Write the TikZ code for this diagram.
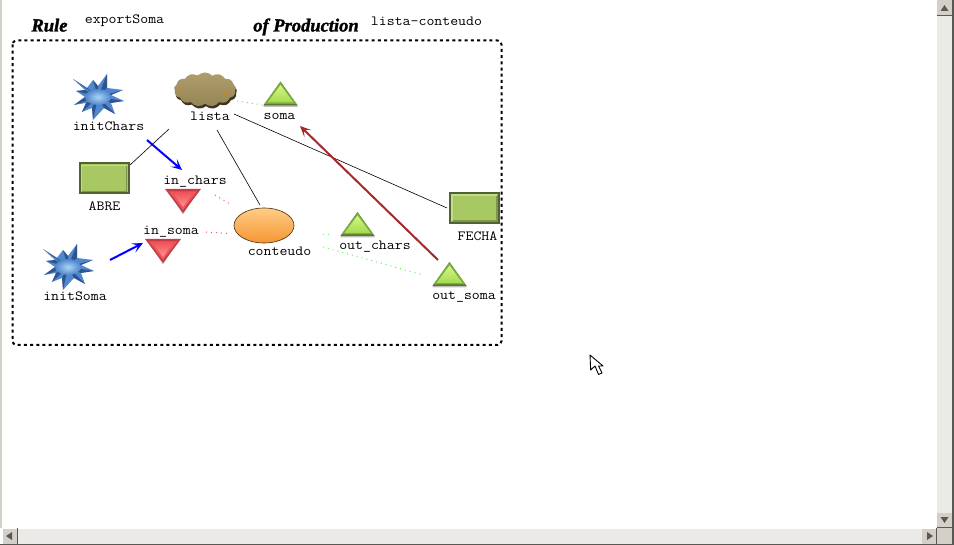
\documentclass[tikz,border=0pt]{standalone}
\usepackage{fontspec}
\setmainfont{Liberation Serif}
\setmonofont[FakeStretch=1.1]{Latin Modern Mono}
\newfontfamily\ttlfont[FakeBold=1.6]{Liberation Serif Bold Italic}
\usetikzlibrary{arrows.meta,shapes.geometric,shapes.symbols,calc}
\definecolor{face}{RGB}{212,208,200}
\definecolor{track}{RGB}{236,234,230}
\definecolor{edgegrey}{RGB}{88,88,84}
\definecolor{leafa}{RGB}{215,245,135}
\definecolor{leafb}{RGB}{165,218,80}
\definecolor{leafe}{RGB}{120,175,60}
\definecolor{leafd}{RGB}{92,115,50}
\definecolor{rosea}{RGB}{255,150,150}
\definecolor{roseb}{RGB}{240,85,90}
\definecolor{rosed}{RGB}{195,60,70}
\definecolor{boxfill}{RGB}{168,200,100}
\definecolor{boxdark}{RGB}{82,98,48}
\definecolor{boxlite}{RGB}{195,220,135}
\definecolor{boxmid}{RGB}{125,150,75}
\definecolor{khaki}{RGB}{150,133,85}
\definecolor{khakil}{RGB}{175,158,108}
\definecolor{khakid}{RGB}{62,52,32}
\definecolor{oranga}{RGB}{255,205,135}
\definecolor{orangb}{RGB}{245,150,50}
\definecolor{blua}{RGB}{175,220,252}
\definecolor{blum}{RGB}{80,135,205}
\definecolor{blub}{RGB}{25,50,100}
\definecolor{redarrow}{RGB}{165,42,42}
\definecolor{dotgreen}{RGB}{90,245,90}
\definecolor{dotred}{RGB}{245,80,95}
\tikzset{
  lbl/.style={font=\ttfamily\fontsize{14}{15}\selectfont,inner sep=0pt,text=black},
  ttl/.style={font=\ttlfont\fontsize{18.5}{20}\selectfont,inner sep=0pt,anchor=base},
  link/.style={draw=black,line width=0.6pt},
  flow/.style={draw=blue,line width=2pt,-{Stealth[length=11pt,width=10pt,inset=5.5pt]}},
  back/.style={draw=redarrow,line width=2pt,-{Stealth[length=11pt,width=10pt,inset=5.5pt]}},
  dotg/.style={draw=dotgreen,line width=1pt,dash pattern=on 1pt off 4pt},
  dotr/.style={draw=dotred,line width=1pt,dash pattern=on 1pt off 4pt},
  bevelbox/.style={rectangle,draw=boxdark,line width=2pt,fill=boxfill,inner sep=0pt},
  btn/.style={fill=face,draw=none},
  glyph/.style={fill=edgegrey,draw=none},
  puff/.style={cloud,cloud puffs=13,cloud puff arc=95,aspect=2.1,minimum width=62pt,minimum height=34pt,inner sep=0pt,draw=none}
}
\newcommand{\uptri}[3]{%
  \coordinate (#1) at (#2,#3);
  \begin{scope}[shift={(#2,#3)}]
    \fill[black!25] (-17,13) -- (17,13) -- (17,11) -- (0,-12) -- (-17,11) -- cycle;
    \fill[leafd] (-17,11.5) -- (0,-12.5) -- (17,11.5) -- cycle;
    \fill[leafe] (-16,10) -- (0,-12) -- (16,10) -- cycle;
    \shade[top color=leafa,bottom color=leafb] (-13,8.5) -- (0,-9) -- (13,8.5) -- cycle;
  \end{scope}}
\newcommand{\downtri}[3]{%
  \coordinate (#1) at (#2,#3);
  \begin{scope}[shift={(#2,#3)}]
    \fill[black!28] (-15,-10) -- (0,13.5) -- (15,-10) -- cycle;
    \fill[rosed] (-18,-12) -- (18,-12) -- (0,12) -- cycle;
    \fill[roseb] (-14,-9.5) -- (14,-9.5) -- (0,9) -- cycle;
    \shade[top color=roseb,bottom color=rosea] (-10,-8) -- (10,-8) -- (0,6) -- cycle;
  \end{scope}}
\newcommand{\burst}[3]{%
  \coordinate (#1) at (#2,#3);
  \begin{scope}[shift={(#2,#3)}]
    \fill[blum]
      (-25,-18) -- (-11,-9) -- (-5,-17) -- (0,-11) -- (9,-23) -- (9,-9) -- (25,-7)
      -- (13,-2) -- (26,4) -- (13,6) -- (17,17) -- (6,11) -- (-5,23) -- (-6,11) -- (-16,15)
      -- (-12,6) -- (-24,8) -- (-13,0) -- (-22,-6) -- (-13,-7) -- cycle;
    \foreach \sx/\sy/\nx/\ny in {-25/-18/-11/-9,-5/-17/0/-11,9/-23/9/-9,25/-7/13/-2,26/4/13/6,17/17/6/11,-5/23/-6/11,-16/15/-12/6,-24/8/-13/0,-22/-6/-13/-7}
      \fill[blub,opacity=0.6] (0,0) -- (\sx,\sy) -- (\nx,\ny) -- cycle;
    \shade[inner color=blua,outer color=blum,opacity=0.95] (0,0) ellipse (13 and 8);
  \end{scope}}
\begin{document}
\begin{tikzpicture}[x=1pt,y=-1pt]
\useasboundingbox (0,0) rectangle (954,545);
\fill[white] (0,0) rectangle (954,545);
% window chrome
\fill[face] (0,0) rectangle (2,528);
\fill[track] (937,0) rectangle (952,528);
\fill[track] (18,529) rectangle (922,544);
\fill[edgegrey] (952,0) rectangle (954,545);
\fill[edgegrey] (0,544) rectangle (954,545);
\node[btn,minimum width=15pt,minimum height=15pt,inner sep=0pt] (btnup) at (944.5,8) {};
\fill[edgegrey] (937,15) rectangle (952,16);
\fill[glyph] (940.5,11) -- (944.5,5) -- (948.5,11) -- cycle;
\node[btn,minimum width=15pt,minimum height=14pt,inner sep=0pt] (btndown) at (944.5,520) {};
\fill[edgegrey] (937,527) rectangle (952,528);
\fill[glyph] (940.5,517) -- (944.5,523) -- (948.5,517) -- cycle;
\fill[face] (937,528) rectangle (952,544);
\fill[edgegrey] (936,528) rectangle (937,544);
\node[btn,minimum width=14pt,minimum height=15pt,inner sep=0pt] (btnright) at (929,536) {};
\fill[glyph] (927,532) -- (933,536) -- (927,540) -- cycle;
\node[btn,minimum width=14pt,minimum height=15pt,inner sep=0pt] (btnleft) at (10,536) {};
\fill[edgegrey] (17,528) rectangle (18,544);
\fill[glyph] (12,532) -- (6,536) -- (12,540) -- cycle;
% cursor
\draw[black,line width=0.9pt,fill=white,line join=round] (590,355) -- (590.7,370) -- (595,366) -- (598.5,374.5) -- (602,373) -- (598.5,366) -- (603,366) -- cycle;
% titles
\node[ttl] (ruleword) at (49.5,31.5) {Rule};
\node[ttl] (prodword) at (306,31.5) {of Production};
\node[lbl] (exportname) at (124.5,21) {exportSoma};
\node[lbl] (listaname) at (426.5,21) {lista-conteudo};
% frame
\draw[black,line width=2pt,dash pattern=on 3pt off 3.2pt,rounded corners=4pt] (12.5,40.5) rectangle (501.5,345);
% icons
\burst{initchars}{98}{97}
\burst{initsoma}{68}{267}
\node[puff,fill=khakid] (listashadow) at (206,92) {};
\node[puff,top color=khakil,bottom color=khaki] (lista) at (205,89.5) {};
\draw[orange!75!khaki,line width=0.8pt] (177,92) -- (181,90) (224,95) -- (228,92) (196,77) -- (199,75);
\node[bevelbox,minimum width=49pt,minimum height=30pt] (abre) at (104,178.5) {};
\draw[boxmid,line width=1.2pt] (126.5,165.5) -- (126.5,191.5) -- (81.5,191.5);
\draw[boxlite,line width=1.2pt] (81.5,191.5) -- (81.5,165.5) -- (126.5,165.5);
\node[bevelbox,minimum width=49pt,minimum height=30pt] (fecha) at (474.5,208) {};
\draw[boxmid,line width=1.2pt] (497,195) -- (497,221) -- (452,221);
\draw[boxlite,line width=1.2pt] (452,221) -- (452,195) -- (497,195);
\node[ellipse,minimum width=60pt,minimum height=35pt,inner sep=0pt,draw=black!70!orangb,line width=0.6pt,top color=oranga,bottom color=orangb] (conteudo) at (264,225.5) {};
\uptri{soma}{280.5}{94}
\uptri{outchars}{357.5}{224.5}
\uptri{outsoma}{449.5}{274.5}
\downtri{inchars}{183}{201}
\downtri{insoma}{163}{251}
% labels
\node[lbl] (initcharsl) at (108.5,126) {initChars};
\node[lbl] (listal) at (210,116) {lista};
\node[lbl] (somal) at (279.5,116) {soma};
\node[lbl] (abrel) at (104.5,206) {ABRE};
\node[lbl] (incharsl) at (195,182) {in\_chars};
\node[lbl] (insomal) at (171,232) {in\_soma};
\node[lbl] (conteudol) at (279.5,251) {conteudo};
\node[lbl] (outcharsl) at (375,247) {out\_chars};
\node[lbl] (outsomal) at (464,297) {out\_soma};
\node[lbl] (fechal) at (477.5,236) {FECHA};
\node[lbl] (initsomal) at (75,296) {initSoma};
% connectors
\draw[link] ([shift={(26,-13.5)}]abre.center) -- ([shift={(-36,39.5)}]lista.center);
\draw[link] ([shift={(12,40.5)}]lista.center) -- ([shift={(-4,-20.5)}]conteudo.center);
\draw[link] ([shift={(29,24.5)}]lista.center) -- ([shift={(-27.5,0)}]fecha.center);
\draw[flow] ([shift={(49,43)}]initchars) -- ([shift={(-1,-31)}]inchars);
\draw[flow] ([shift={(42,-7)}]initsoma) -- ([shift={(-20,-8)}]insoma);
\draw[back] ([shift={(-11.5,-14.5)}]outsoma) -- ([shift={(19.5,32)}]soma);
\draw[dotg] ([shift={(32,11.5)}]lista.center) -- ([shift={(-18,11)}]soma);
\draw[dotr] ([shift={(32,-6)}]inchars) -- ([shift={(-34,-21.5)}]conteudo.center);
\draw[dotr] ([shift={(43,-19)}]insoma) -- ([shift={(-35,8)}]conteudo.center);
\draw[dotg] ([shift={(59,9.5)}]conteudo.center) -- ([shift={(66,9.5)}]conteudo.center);
\draw[dotg] ([shift={(59,21.5)}]conteudo.center) -- ([shift={(-26.5,0.5)}]outsoma);
\end{tikzpicture}
\end{document}
